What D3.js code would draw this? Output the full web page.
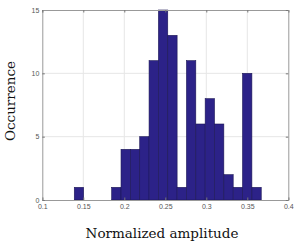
<!DOCTYPE html>
<html><head><meta charset="utf-8">
<script src="https://cdn.jsdelivr.net/npm/d3@7"></script>
<style>html,body{margin:0;padding:0;background:#fff;}svg{display:block;}</style>
</head><body>
<script>
const binStart = 0.139;
const binWidth = 0.0114;
const counts = [1,0,0,0,1,4,4,5,11,15,13,1,11,6,8,6,2,1,10,1];
const xTicks = [0.1,0.15,0.2,0.25,0.3,0.35,0.4];
const yTicks = [0,5,10,15];
const xLabel = "Normalized amplitude";
const yLabel = "Occurrence";

const W=299,H=243;
const m={l:42.3,r:10.7,t:10,b:43};
const svg=d3.select("body").append("svg").attr("width",W).attr("height",H);
const x=d3.scaleLinear().domain([0.1,0.4]).range([m.l,W-m.r]);
const y=d3.scaleLinear().domain([0,15]).range([H-m.b,m.t]);

// grid
svg.append("g").selectAll("line").data(xTicks.slice(1,-1)).join("line")
  .attr("x1",d=>x(d)).attr("x2",d=>x(d)).attr("y1",y(0)).attr("y2",y(15))
  .attr("stroke","#e6e6e6").attr("stroke-width",1);
svg.append("g").selectAll("line").data(yTicks.slice(1,-1)).join("line")
  .attr("y1",d=>y(d)).attr("y2",d=>y(d)).attr("x1",x(0.1)).attr("x2",x(0.4))
  .attr("stroke","#e6e6e6").attr("stroke-width",1);

// bars
const bins=counts.map((c,i)=>({x0:binStart+i*binWidth,x1:binStart+(i+1)*binWidth,c}));
svg.append("g").selectAll("rect").data(bins.filter(d=>d.c>0)).join("rect")
  .attr("x",d=>x(d.x0)).attr("width",d=>x(d.x1)-x(d.x0))
  .attr("y",d=>y(d.c)).attr("height",d=>y(0)-y(d.c))
  .attr("fill","#2c2288").attr("stroke","#1c1655").attr("stroke-width",0.6);

// axes
const ax=svg.append("g").attr("transform",`translate(0,${y(0)})`)
  .call(d3.axisBottom(x).tickValues(xTicks).tickFormat(d3.format("")).tickSize(-2.5).tickPadding(4));
const ay=svg.append("g").attr("transform",`translate(${x(0.1)},0)`)
  .call(d3.axisLeft(y).tickValues(yTicks).tickSize(-2.5).tickPadding(3));
[ax,ay].forEach(g=>{
  g.select(".domain").attr("stroke","#999");
  g.selectAll(".tick line").attr("stroke","#777");
  g.selectAll("text").attr("fill","#555").style("font-family","Liberation Sans, Arial, sans-serif").style("font-size","7px");
});
const axT=svg.append("g").attr("transform",`translate(0,${y(15)})`)
  .call(d3.axisTop(x).tickValues(xTicks).tickFormat("").tickSize(-2.5));
const ayR=svg.append("g").attr("transform",`translate(${x(0.4)},0)`)
  .call(d3.axisRight(y).tickValues(yTicks).tickFormat("").tickSize(-2.5));
[axT,ayR].forEach(g=>{g.select(".domain").attr("stroke","#999");g.selectAll(".tick line").attr("stroke","#777");});

// titles
svg.append("text").attr("x",162).attr("y",238).attr("text-anchor","middle")
  .style("font-family","DejaVu Serif, Liberation Serif, serif").style("font-size","13.5px").attr("fill","#111").text(xLabel);
svg.append("text").attr("transform","translate(15,101) rotate(-90)").attr("text-anchor","middle")
  .style("font-family","DejaVu Serif, Liberation Serif, serif").style("font-size","13.5px").attr("fill","#111").text(yLabel);
</script>
</body></html>
